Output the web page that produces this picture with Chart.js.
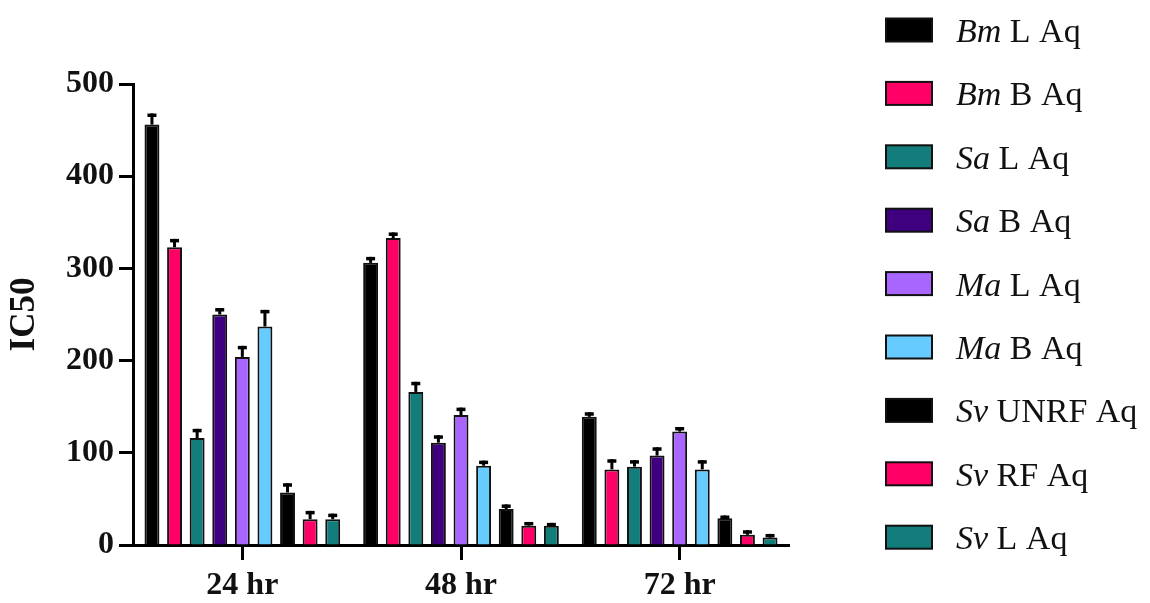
<!DOCTYPE html>
<html>
<head>
<meta charset="utf-8">
<script src="https://cdn.jsdelivr.net/npm/chart.js@4.4.1/dist/chart.umd.min.js"></script>
<style>
  html, body { margin: 0; padding: 0; background: #ffffff; }
  #wrap { width: 1150px; height: 603px; position: relative; }
</style>
</head>
<body>
<div id="wrap"><canvas id="c" width="1150" height="603"></canvas></div>
<script>
// Time points
const categories = ['24 hr', '48 hr', '72 hr'];

// IC50 means per extract
const bmL    = [456, 306, 139];
const bmB    = [323, 333, 82];
const saL    = [116, 166, 85];
const saB    = [250, 111, 97];
const maL    = [204, 141, 123];
const maB    = [237, 86, 82];
const svUNRF = [57, 39, 29];
const svRF   = [28, 21, 11];
const svL    = [28, 21, 8];

// Upper error (SD) per extract
const bmLErr    = [12, 6.5, 5];
const bmBErr    = [9, 6, 11];
const saLErr    = [10, 11, 7];
const saBErr    = [7, 8, 9];
const maLErr    = [12, 8, 5];
const maBErr    = [18, 5.5, 10];
const svUNRFErr = [10, 5, 3];
const svRFErr   = [9, 4, 5];
const svLErr    = [6, 3, 4];

// Legend labels: italic species abbreviation + plain remainder
const speciesNames = ['Bm', 'Bm', 'Sa', 'Sa', 'Ma', 'Ma', 'Sv', 'Sv', 'Sv'];
const extractNames = ['L Aq', 'B Aq', 'L Aq', 'B Aq', 'L Aq', 'B Aq', 'UNRF Aq', 'RF Aq', 'L Aq'];

// Y axis ticks
const yTicks = [0, 100, 200, 300, 400, 500];

const BLACK = '#000000', PINK = '#FF0066', TEAL = '#127D7B',
      INDIGO = '#3E007E', LILAC = '#A866FF', SKY = '#66CCFF';

const seriesValues = [bmL, bmB, saL, saB, maL, maB, svUNRF, svRF, svL];
const seriesErrors = [bmLErr, bmBErr, saLErr, saBErr, maLErr, maBErr, svUNRFErr, svRFErr, svLErr];
const seriesColors = [BLACK, PINK, TEAL, INDIGO, LILAC, SKY, BLACK, PINK, TEAL];

const FONT = '"Liberation Serif", "Times New Roman", serif';

const datasets = seriesValues.map((vals, i) => ({
  label: speciesNames[i] + ' ' + extractNames[i],
  data: vals,
  errors: seriesErrors[i],
  backgroundColor: seriesColors[i],
  borderColor: '#111111',
  borderWidth: 2,
  categoryPercentage: 0.93,
  barPercentage: 0.66
}));

// Upward SD whiskers with caps
const errorBars = {
  id: 'errorBars',
  afterDatasetsDraw(chart) {
    const ctx = chart.ctx;
    const y = chart.scales.y;
    ctx.save();
    ctx.strokeStyle = '#000000';
    chart.data.datasets.forEach((ds, di) => {
      const meta = chart.getDatasetMeta(di);
      meta.data.forEach((bar, k) => {
        const v = ds.data[k];
        const e = ds.errors[k];
        const yTop = y.getPixelForValue(v + e);
        const yBar = y.getPixelForValue(v);
        ctx.lineWidth = 3;
        ctx.beginPath();
        ctx.moveTo(bar.x, yBar);
        ctx.lineTo(bar.x, yTop);
        ctx.stroke();
        ctx.lineWidth = 3.5;
        ctx.beginPath();
        ctx.moveTo(bar.x - 4.5, yTop + 1.75);
        ctx.lineTo(bar.x + 4.5, yTop + 1.75);
        ctx.stroke();
      });
    });
    ctx.restore();
  }
};

// Legend at right with italic species names
const sideLegend = {
  id: 'sideLegend',
  afterDraw(chart) {
    const ctx = chart.ctx;
    ctx.save();
    chart.data.datasets.forEach((ds, i) => {
      const cy = 30 + i * 63.4;
      ctx.fillStyle = seriesColors[i];
      ctx.fillRect(886, cy - 11.5, 46, 23);
      ctx.strokeStyle = '#111111';
      ctx.lineWidth = 2;
      ctx.strokeRect(886, cy - 11.5, 46, 23);
      ctx.fillStyle = '#111111';
      ctx.textBaseline = 'alphabetic';
      ctx.textAlign = 'left';
      ctx.font = 'italic 34px ' + FONT;
      const sp = speciesNames[i];
      ctx.fillText(sp, 956, cy + 12);
      const w = ctx.measureText(sp).width;
      ctx.font = '34px ' + FONT;
      ctx.fillText(' ' + extractNames[i], 956 + w, cy + 12);
    });
    ctx.restore();
  }
};

new Chart(document.getElementById('c'), {
  type: 'bar',
  data: { labels: categories, datasets },
  options: {
    responsive: false,
    animation: false,
    layout: { padding: { left: 0, right: 361, top: 84, bottom: 0 } },
    plugins: {
      legend: { display: false },
      tooltip: { enabled: false }
    },
    scales: {
      x: {
        offset: true,
        grid: {
          display: true,
          offset: false,
          drawOnChartArea: false,
          drawTicks: true,
          tickLength: 15,
          tickWidth: 3,
          tickColor: '#000000'
        },
        border: { display: true, color: '#000000', width: 3 },
        ticks: {
          color: '#111111',
          font: { family: FONT, size: 32, weight: 'bold' },
          padding: 7,
          maxRotation: 0
        },
        afterFit(scale) { scale.height = 58; }
      },
      y: {
        min: 0,
        max: 500,
        afterBuildTicks(scale) { scale.ticks = yTicks.map(v => ({ value: v })); },
        grid: {
          display: true,
          drawOnChartArea: false,
          drawTicks: true,
          tickLength: 14,
          tickWidth: 3,
          tickColor: '#000000'
        },
        border: { display: true, color: '#000000', width: 3 },
        ticks: {
          color: '#111111',
          font: { family: FONT, size: 32, weight: 'bold' },
          padding: 5
        },
        title: {
          display: true,
          text: 'IC50',
          color: '#111111',
          font: { family: FONT, size: 35, weight: 'bold' },
          padding: { top: 4, bottom: 0 }
        },
        afterFit(scale) { scale.width = 133; }
      }
    }
  },
  plugins: [errorBars, sideLegend]
});
</script>
</body>
</html>
